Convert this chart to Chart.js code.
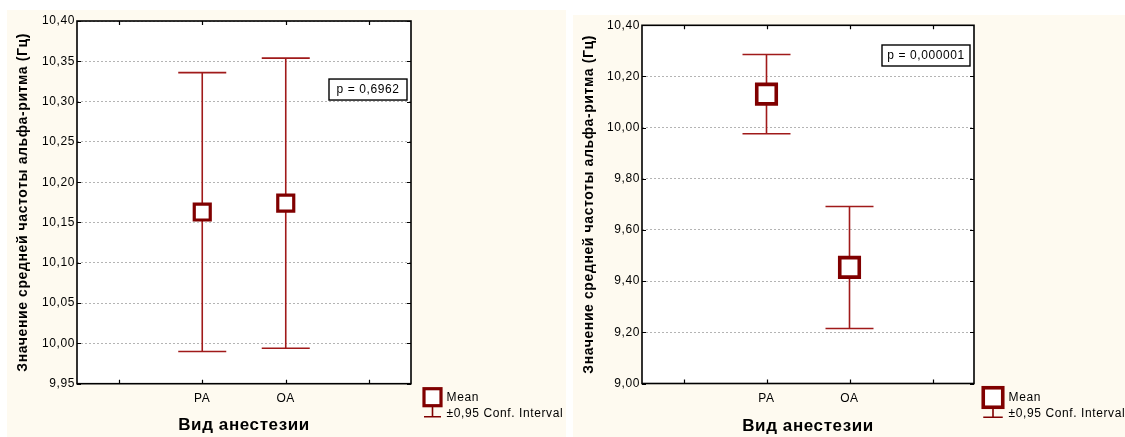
<!DOCTYPE html>
<html>
<head>
<meta charset="utf-8">
<script src="https://cdn.jsdelivr.net/npm/chart.js@4.4.1/dist/chart.umd.min.js"></script>
<style>
  html, body { margin: 0; padding: 0; background: #ffffff; width: 1125px; height: 437px; overflow: hidden; }
  .panel { position: absolute; background: #fefaf0; }
  .panel canvas { position: absolute; left: 0; top: 0; }
</style>
</head>
<body>
<div class="panel" style="left:7px; top:10px; width:559px; height:427px;">
  <canvas id="chartLeft" width="559" height="427"></canvas>
</div>
<div class="panel" style="left:573px; top:15px; width:552px; height:422px;">
  <canvas id="chartRight" width="552" height="422"></canvas>
</div>

<script>
// Anesthesia groups
const categories = ['РА', 'ОА'];

// Left panel: mean alpha-rhythm frequency with 95% CI
const meansLeft = [10.163, 10.174];
const lowerLeft = [9.990, 9.994];
const upperLeft = [10.336, 10.354];
const pLabelLeft = 'p = 0,6962';
const yMinLeft = 9.95, yMaxLeft = 10.40, yStepLeft = 0.05;

// Right panel
const meansRight = [10.131, 9.454];
const lowerRight = [9.976, 9.215];
const upperRight = [10.286, 9.692];
const pLabelRight = 'p = 0,000001';
const yMinRight = 9.00, yMaxRight = 10.40, yStepRight = 0.20;

const yTitle = 'Значение средней частоты альфа-ритма (Гц)';
const xTitle = 'Вид анестезии';
const legendMean = 'Mean';
const legendCI = '±0,95 Conf. Interval';

const FONT = '"Liberation Sans", Arial, sans-serif';
const MARKER = '#800000';
const WHISKER = '#a01a1a';
const SPACING = '0.6px';

// Draws CI whiskers, the plot frame with inner ticks, the p-value box and the legend
const ciPlot = {
  id: 'ciPlot',
  beforeDraw(chart) {
    const {ctx, chartArea: a} = chart;
    ctx.letterSpacing = SPACING;
    ctx.save();
    ctx.fillStyle = '#ffffff';
    ctx.fillRect(a.left, a.top, a.right - a.left, a.bottom - a.top);
    ctx.restore();
  },
  beforeDatasetsDraw(chart, args, o) {
    const {ctx, scales: {x, y}} = chart;
    ctx.save();
    ctx.strokeStyle = WHISKER;
    ctx.lineWidth = 1.6;
    o.lower.forEach((lo, i) => {
      const px = x.getPixelForValue(i + 1);
      const yl = y.getPixelForValue(lo);
      const yu = y.getPixelForValue(o.upper[i]);
      ctx.beginPath();
      ctx.moveTo(px, yl); ctx.lineTo(px, yu);
      ctx.moveTo(px - o.capHalf, yl); ctx.lineTo(px + o.capHalf, yl);
      ctx.moveTo(px - o.capHalf, yu); ctx.lineTo(px + o.capHalf, yu);
      ctx.stroke();
    });
    ctx.restore();
  },
  afterDraw(chart, args, o) {
    const {ctx, chartArea: a, scales: {x, y}} = chart;
    ctx.save();
    ctx.letterSpacing = SPACING;
    // inner tick marks
    ctx.strokeStyle = '#000';
    ctx.lineWidth = 1.2;
    ctx.beginPath();
    y.ticks.forEach(t => {
      const py = Math.round(y.getPixelForValue(t.value)) + 0.5;
      ctx.moveTo(a.left, py); ctx.lineTo(a.left + 4, py);
      ctx.moveTo(a.right, py); ctx.lineTo(a.right - 4, py);
    });
    x.ticks.forEach((t, i) => {
      const px = Math.round(x.getPixelForValue(i)) + 0.5;
      ctx.moveTo(px, a.top); ctx.lineTo(px, a.top + 4);
      ctx.moveTo(px, a.bottom); ctx.lineTo(px, a.bottom - 4);
    });
    ctx.stroke();
    // frame
    ctx.lineWidth = 1.6;
    ctx.strokeRect(a.left, a.top, a.right - a.left, a.bottom - a.top);

    // p-value box
    ctx.font = '12px ' + FONT;
    const bw = o.pBoxWidth, bh = 21;
    const bx = a.right - o.pRight - bw;
    const by = y.getPixelForValue(o.pTopValue);
    ctx.fillStyle = '#fff';
    ctx.fillRect(bx, by, bw, bh);
    ctx.lineWidth = 1.4;
    ctx.strokeStyle = '#000';
    ctx.strokeRect(bx, by, bw, bh);
    ctx.fillStyle = '#000';
    ctx.textAlign = 'center';
    ctx.textBaseline = 'middle';
    ctx.fillText(o.pLabel, bx + bw / 2, by + bh / 2 + 0.5);

    // legend
    const cx = a.right + o.legendDx, cy = a.bottom + o.legendDy;
    const s = o.legendBox;
    ctx.strokeStyle = MARKER;
    ctx.lineWidth = 1.6;
    ctx.beginPath();
    ctx.moveTo(cx, cy + s / 2); ctx.lineTo(cx, cy + s / 2 + o.legendStem);
    ctx.moveTo(cx - s / 2, cy + s / 2 + o.legendStem); ctx.lineTo(cx + s / 2, cy + s / 2 + o.legendStem);
    ctx.stroke();
    ctx.fillStyle = '#fff';
    ctx.lineWidth = o.markerStroke;
    ctx.fillRect(cx - s / 2, cy - s / 2, s, s);
    ctx.strokeRect(cx - s / 2, cy - s / 2, s, s);
    ctx.fillStyle = '#000';
    ctx.textAlign = 'left';
    ctx.textBaseline = 'middle';
    ctx.font = '12px ' + FONT;
    const tx = cx + s / 2 + o.markerStroke / 2 + 4;
    ctx.fillText(legendMean, tx, cy);
    ctx.fillText(legendCI, tx, cy + 16);
    ctx.restore();
  }
};

function makeChart(id, c) {
  return new Chart(document.getElementById(id), {
    type: 'line',
    data: {
      labels: ['', ...categories, ''],
      datasets: [{
        data: [null, ...c.means, null],
        showLine: false,
        pointStyle: 'rect',
        pointRadius: c.markerRadius,
        pointBorderWidth: c.markerStroke,
        pointBackgroundColor: '#ffffff',
        pointBorderColor: MARKER,
        pointHoverRadius: c.markerRadius
      }]
    },
    options: {
      responsive: false,
      animation: false,
      devicePixelRatio: 1,
      events: [],
      layout: { autoPadding: false, padding: { left: 0, top: c.padTop, right: c.padRight, bottom: 0 } },
      plugins: {
        legend: { display: false },
        tooltip: { enabled: false },
        ciPlot: {
          lower: c.lower, upper: c.upper, capHalf: 24,
          pLabel: c.pLabel, pRight: 4, pTopValue: c.pTopValue, pBoxWidth: c.pBoxWidth,
          legendDx: c.legendDx, legendDy: c.legendDy, legendBox: c.legendBox,
          legendStem: c.legendStem, markerStroke: c.markerStroke
        }
      },
      scales: {
        x: {
          type: 'category',
          offset: true,
          grid: { display: false, drawTicks: false },
          border: { display: false },
          ticks: { padding: 8, color: '#000', autoSkip: false, maxRotation: 0, font: { family: FONT, size: 12 } },
          title: { display: true, text: xTitle, color: '#000', font: { family: FONT, size: 17, weight: 'bold' }, padding: { top: 0, bottom: c.xTitlePad } },
          afterFit: s => { s.height = c.xAxisHeight; }
        },
        y: {
          min: c.yMin, max: c.yMax,
          ticks: {
            stepSize: c.yStep, padding: 2, color: '#000',
            font: { family: FONT, size: 12 },
            callback: v => v.toFixed(2).replace('.', ',')
          },
          grid: { color: '#b4b4b4', lineWidth: 1, drawTicks: false },
          border: { display: false, dash: [2, 2] },
          title: { display: true, text: yTitle, color: '#000', font: { family: FONT, size: 14, weight: 'bold' }, padding: { top: 7.5, bottom: 0 } },
          afterFit: s => { s.width = c.yAxisWidth; }
        }
      }
    },
    plugins: [ciPlot]
  });
}

makeChart('chartLeft', {
  means: meansLeft, lower: lowerLeft, upper: upperLeft, pLabel: pLabelLeft, pTopValue: 10.328, pBoxWidth: 78,
  yMin: yMinLeft, yMax: yMaxLeft, yStep: yStepLeft,
  markerRadius: 11.3, markerStroke: 3.2,
  padTop: 11, padRight: 155, xAxisHeight: 53.3, yAxisWidth: 70, xTitlePad: 1.8,
  legendDx: 21.5, legendDy: 13.5, legendBox: 17, legendStem: 11
});

makeChart('chartRight', {
  means: meansRight, lower: lowerRight, upper: upperRight, pLabel: pLabelRight, pTopValue: 10.323, pBoxWidth: 88,
  yMin: yMinRight, yMax: yMaxRight, yStep: yStepRight,
  markerRadius: 13.8, markerStroke: 3.6,
  padTop: 10.3, padRight: 151, xAxisHeight: 53.5, yAxisWidth: 69, xTitlePad: 0,
  legendDx: 19, legendDy: 14, legendBox: 19.5, legendStem: 10
});
</script>
</body>
</html>
